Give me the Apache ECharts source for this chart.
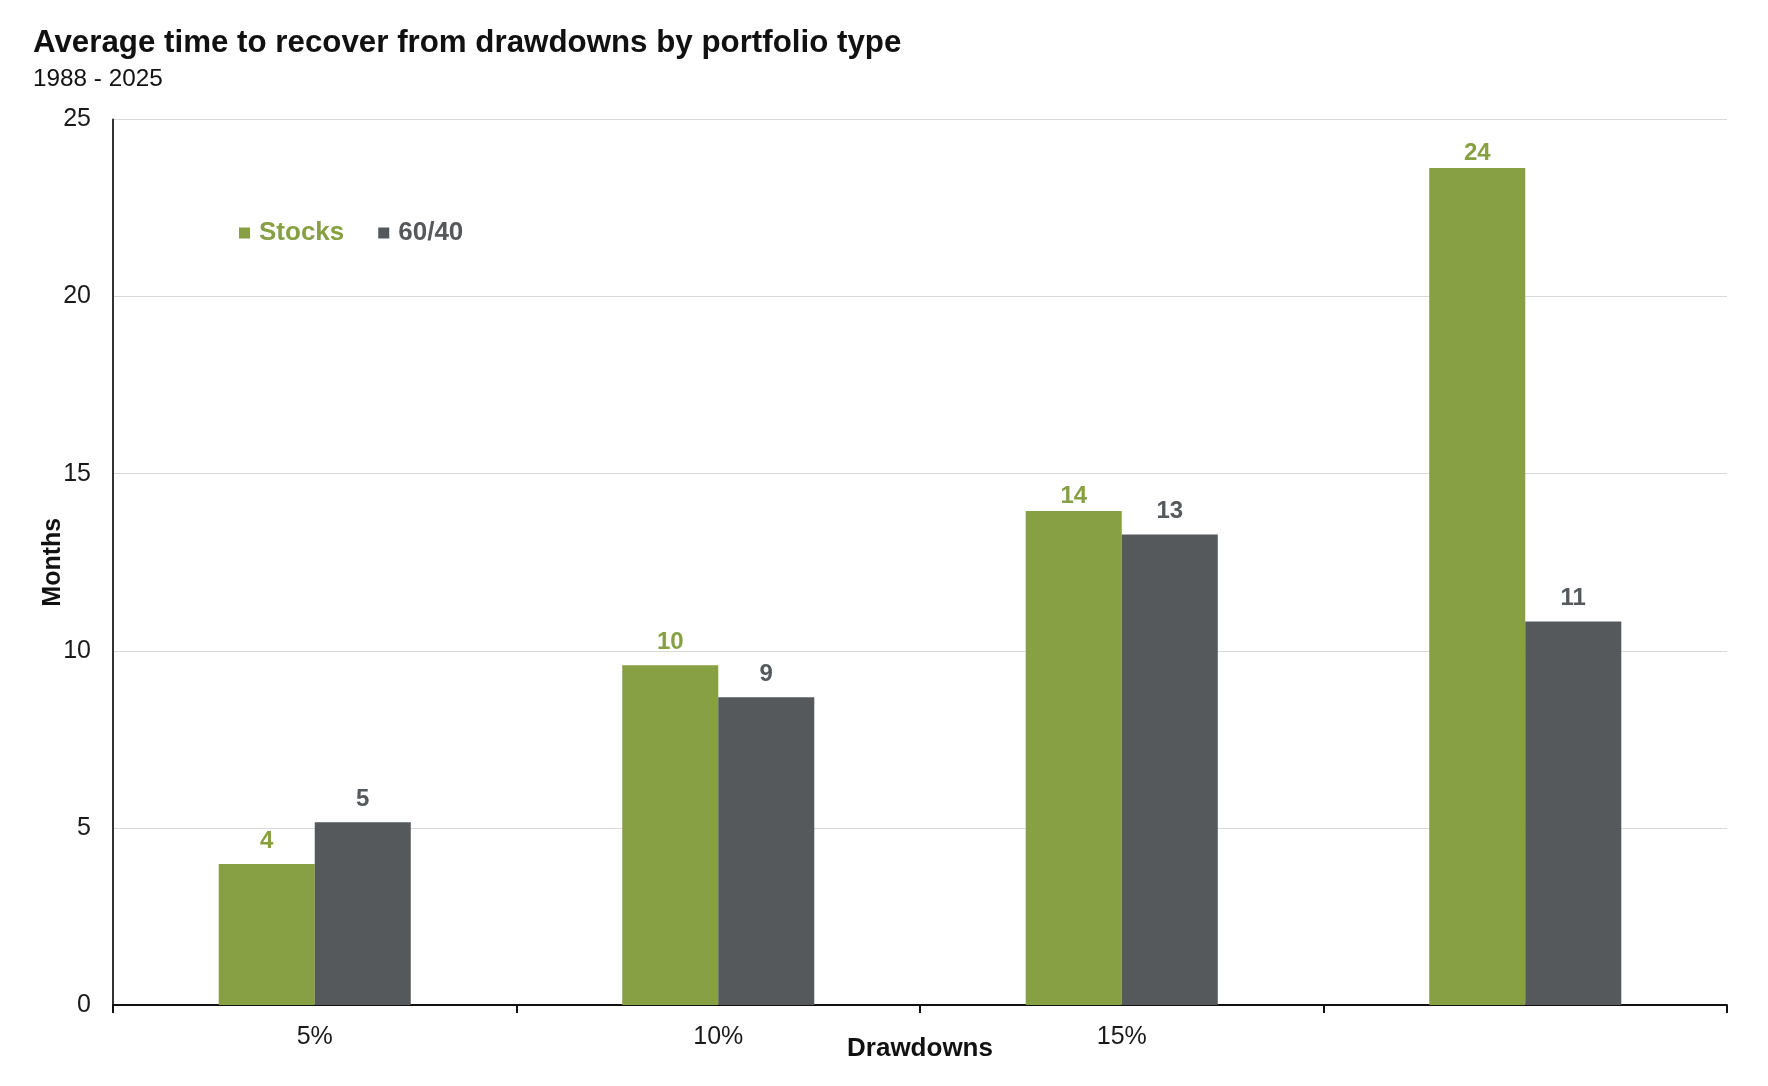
<!DOCTYPE html>
<html>
<head>
<meta charset="utf-8">
<script src="https://cdn.jsdelivr.net/npm/echarts@6/dist/echarts.min.js"></script>
<style>
  html, body { margin: 0; padding: 0; background: #fff; }
  #chart { width: 1768px; height: 1086px; }
</style>
</head>
<body>
<div id="chart"></div>
<script>
// drawdown buckets (last label is blanked out in the source image)
const categories = ['5%', '10%', '15%', '']
const stocks = [3.98, 9.59, 13.95, 23.63]
const sixtyForty = [5.16, 8.69, 13.28, 10.83]
const yTicks = [0, 5, 10, 15, 20, 25]

const GREEN = '#86a043'
const GREY = '#55595c'
const FONT = '"Liberation Sans", Arial, sans-serif'

const chart = echarts.init(document.getElementById('chart'))

const labelFor = (color) => ({
  show: true,
  position: 'top',
  distance: 11,
  color: color,
  fontFamily: FONT,
  fontWeight: 'bold',
  fontSize: 24,
  formatter: (p) => Math.round(p.value),
})

// the two tallest green labels sit tighter on the bar in the original
const stocksData = stocks.map((v, i) => (i >= 2 ? { value: v, label: { distance: 3 } } : v))

chart.setOption({
  animation: false,
  title: {
    text: 'Average time to recover from drawdowns by portfolio type',
    subtext: '1988 - 2025',
    left: 28,
    top: 23,
    itemGap: 8,
    textStyle: { fontFamily: FONT, fontWeight: 'bold', fontSize: 31.3, color: '#111' },
    subtextStyle: { fontFamily: FONT, fontSize: 24.3, color: '#111' },
  },
  legend: {
    data: [
      { name: 'Stocks', textStyle: { color: GREEN } },
      { name: '60/40', textStyle: { color: GREY } },
    ],
    left: 234,
    top: 215,
    icon: 'rect',
    itemWidth: 11,
    itemHeight: 11,
    itemGap: 34,
    textStyle: { fontFamily: FONT, fontWeight: 'bold', fontSize: 26, padding: [0, 0, 0, 4] },
  },
  grid: { left: 113, right: 41, top: 119.5, bottom: 81, containLabel: false },
  xAxis: {
    type: 'category',
    data: categories,
    name: 'Drawdowns',
    nameLocation: 'middle',
    nameGap: 31,
    nameMoveOverlap: false,
    nameTextStyle: { fontFamily: FONT, fontWeight: 'bold', fontSize: 26, color: '#111' },
    axisLine: { lineStyle: { color: '#111', width: 2 } },
    axisTick: { show: true, inside: false, length: 8, lineStyle: { color: '#111', width: 2 } },
    axisLabel: { fontFamily: FONT, fontSize: 25, color: '#1a1a1a', margin: 20 },
  },
  yAxis: {
    type: 'value',
    min: yTicks[0],
    max: yTicks[yTicks.length - 1],
    interval: 5,
    name: 'Months',
    nameLocation: 'middle',
    nameGap: 47,
    nameMoveOverlap: false,
    nameRotate: 90,
    nameTextStyle: { fontFamily: FONT, fontWeight: 'bold', fontSize: 25, color: '#111' },
    axisLine: { show: true, lineStyle: { color: '#333', width: 2 } },
    axisTick: { show: false },
    axisLabel: { fontFamily: FONT, fontSize: 25, color: '#1a1a1a', margin: 22 },
    splitLine: { lineStyle: { color: '#d9d9d9', width: 1 } },
  },
  series: [
    {
      name: 'Stocks',
      type: 'bar',
      data: stocksData,
      barWidth: '23.8%',
      barGap: '0%',
      itemStyle: { color: GREEN },
      label: labelFor(GREEN),
    },
    {
      name: '60/40',
      type: 'bar',
      data: sixtyForty,
      barWidth: '23.8%',
      itemStyle: { color: GREY },
      label: labelFor(GREY),
    },
  ],
})
</script>
</body>
</html>
